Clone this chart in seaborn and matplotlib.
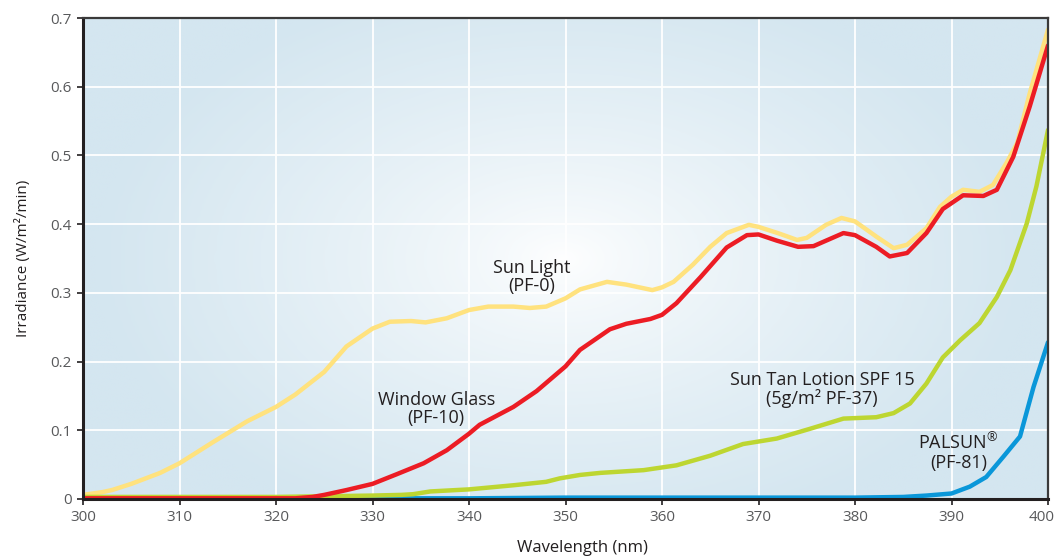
import numpy as np
import pandas as pd
import matplotlib
matplotlib.use("Agg")
import matplotlib.pyplot as plt
import matplotlib.transforms as mtransforms
import seaborn as sns
from matplotlib.colors import LinearSegmentedColormap

# ---------------- data ----------------
sun_x = [300, 302, 303, 305, 308, 310, 313.5, 317, 320, 322, 325, 327.3, 330, 331.8, 334, 335.5,
         337.7, 340, 342, 344.6, 346.3, 348, 350, 351.5, 354.3, 356.3, 359, 360, 361.2, 363.2,
         365, 366.7, 369, 370, 372, 374, 375, 377, 378.6, 380, 382.2, 384, 385.4, 387.4, 388.8,
         390, 391.2, 392.9, 394.3, 395.7, 396.8, 398.1, 400]
sun_y = [0.006, 0.010, 0.013, 0.022, 0.038, 0.052, 0.083, 0.113, 0.134, 0.152, 0.185, 0.222,
         0.248, 0.258, 0.259, 0.257, 0.263, 0.275, 0.280, 0.280, 0.278, 0.280, 0.292, 0.305,
         0.316, 0.312, 0.304, 0.308, 0.316, 0.341, 0.367, 0.387, 0.399, 0.396, 0.387, 0.377,
         0.380, 0.399, 0.409, 0.404, 0.382, 0.365, 0.370, 0.394, 0.425, 0.440, 0.450, 0.447,
         0.457, 0.489, 0.518, 0.590, 0.683]

glass_x = [300, 305, 310, 315, 320, 322, 323.8, 325, 327.3, 330, 332.5, 335.3, 337.7, 340, 341.1,
           344.6, 347, 350, 351.5, 354.6, 356.3, 358.8, 360, 361.5, 364, 366.7, 368.8, 370,
           371.9, 374.1, 375.7, 378.8, 380, 382.2, 383.6, 385.4, 387.4, 389.1, 391.2, 393.3,
           394.7, 396.4, 398.1, 400]
glass_y = [0.001, 0.001, 0.001, 0.001, 0.001, 0.001, 0.003, 0.006, 0.013, 0.022, 0.036, 0.052,
           0.071, 0.095, 0.108, 0.134, 0.157, 0.193, 0.217, 0.247, 0.255, 0.262, 0.268, 0.285,
           0.323, 0.366, 0.384, 0.385, 0.376, 0.367, 0.368, 0.387, 0.384, 0.367, 0.353, 0.358,
           0.387, 0.422, 0.442, 0.441, 0.450, 0.498, 0.571, 0.660]

lotion_x = [300, 305, 310, 315, 320, 325, 330, 333, 334.2, 336, 340, 344.6, 348, 349.4, 351.5,
            353.6, 358.1, 361.5, 365, 368.4, 371.9, 375.3, 378.8, 382.2, 384, 385.7, 387.4,
            389.1, 390.9, 392.9, 394.7, 396.1, 397.8, 398.8, 400]
lotion_y = [0.003, 0.003, 0.003, 0.003, 0.003, 0.004, 0.005, 0.006, 0.007, 0.011, 0.014, 0.020,
            0.025, 0.030, 0.035, 0.038, 0.042, 0.049, 0.063, 0.080, 0.088, 0.102, 0.117, 0.119,
            0.125, 0.139, 0.168, 0.206, 0.231, 0.256, 0.294, 0.333, 0.401, 0.455, 0.537]

palsun_x = [300, 320, 340, 350, 360, 370, 380, 385, 387.4, 390, 391.9, 393.6, 395.4, 397.1,
            398.5, 400]
palsun_y = [0.001, 0.001, 0.001, 0.002, 0.002, 0.002, 0.002, 0.003, 0.005, 0.008, 0.018, 0.032,
            0.062, 0.091, 0.163, 0.228]

x_ticks = [300, 310, 320, 330, 340, 350, 360, 370, 380, 390, 400]
y_ticks = [0, 0.1, 0.2, 0.3, 0.4, 0.5, 0.6, 0.7]
y_tick_labels = ["0", "0.1", "0.2", "0.3", "0.4", "0.5", "0.6", "0.7"]

labels = ["Sun Light\n(PF-0)", "Window Glass\n(PF-10)",
          "Sun Tan Lotion SPF 15\n(5g/m\u00b2 PF-37)", "PALSUN$^{\u00ae}$\n(PF-81)"]
label_pos = [(346.5, 0.323), (336.6, 0.131), (376.6, 0.159), (390.7, 0.068)]

# ---------------- style ----------------
sns.set_theme(style="white")
plt.rcParams["font.family"] = ["Open Sans", "DejaVu Sans"]
plt.rcParams["mathtext.fontset"] = "custom"
plt.rcParams["mathtext.rm"] = "Open Sans"
plt.rcParams["mathtext.it"] = "Open Sans"
plt.rcParams["mathtext.default"] = "rm"

fig = plt.figure(figsize=(10.58, 5.58), dpi=100)
ax = fig.add_axes([83 / 1058, 59 / 558, 965 / 1058, 481 / 558])

# radial gradient background
W, H = 965, 481
gx, gy = np.meshgrid(np.linspace(0, W, 400), np.linspace(0, H, 200))
cx, cy = 480, 240
r = np.sqrt(((gx - cx) / 470.0) ** 2 + ((gy - cy) / 290.0) ** 2)
t = np.clip(r, 0, 1) ** 0.75
cmap = LinearSegmentedColormap.from_list("bg", ["#ffffff", "#d4e6f0"])
ax.imshow(t, cmap=cmap, vmin=0, vmax=1, extent=[300, 400, 0.7, 0], aspect="auto",
          origin="upper", zorder=0, interpolation="bilinear")

lw = 3.2
sns.lineplot(x=sun_x, y=sun_y, ax=ax, color="#FFE27E", lw=lw, zorder=3)
sns.lineplot(x=palsun_x, y=palsun_y, ax=ax, color="#0A97D9", lw=lw, zorder=3.5)
sns.lineplot(x=lotion_x, y=lotion_y, ax=ax, color="#BDD631", lw=lw, zorder=4)
sns.lineplot(x=glass_x, y=glass_y, ax=ax, color="#EC1C24", lw=lw, zorder=5)

ax.set_xlim(300, 400)
ax.set_ylim(0, 0.7)
ax.set_xticks(x_ticks)
ax.set_yticks(y_ticks)
ax.set_yticklabels(y_tick_labels)

ax.grid(True, color="white", lw=1.3, zorder=1)
ax.set_axisbelow(False)
for gl in ax.get_xgridlines() + ax.get_ygridlines():
    gl.set_zorder(1)

for s in ["left", "bottom"]:
    ax.spines[s].set_color("#231f20")
    ax.spines[s].set_linewidth(2.2)
for s in ["top", "right"]:
    ax.spines[s].set_color("#3a3a3a")
    ax.spines[s].set_linewidth(1.6)
for sp in ax.spines.values():
    sp.set_zorder(6)

ax.tick_params(axis="both", which="both", direction="out", length=4, width=1.2,
               color="#231f20", labelsize=11, labelcolor="#58595b", pad=4,
               bottom=True, left=True)

# nudge the last x tick label inside the figure, as in the reference
last = ax.get_xticklabels()[-1]
last.set_transform(last.get_transform() +
                   mtransforms.ScaledTranslation(-6 / 100, 0, fig.dpi_scale_trans))

ax.set_ylabel("Irradiance (W/m\u00b2/min)", fontsize=11, color="#231f20", labelpad=14)
fig.text(582 / 1058, 5.5 / 558, "Wavelength (nm)", ha="center", va="baseline",
         fontsize=12, color="#231f20")

for txt, (lx, ly) in zip(labels, label_pos):
    ax.text(lx, ly, txt, ha="center", va="center", fontsize=13, color="#231f20",
            linespacing=1.0, zorder=7)

fig.savefig("out.png", dpi=100)
